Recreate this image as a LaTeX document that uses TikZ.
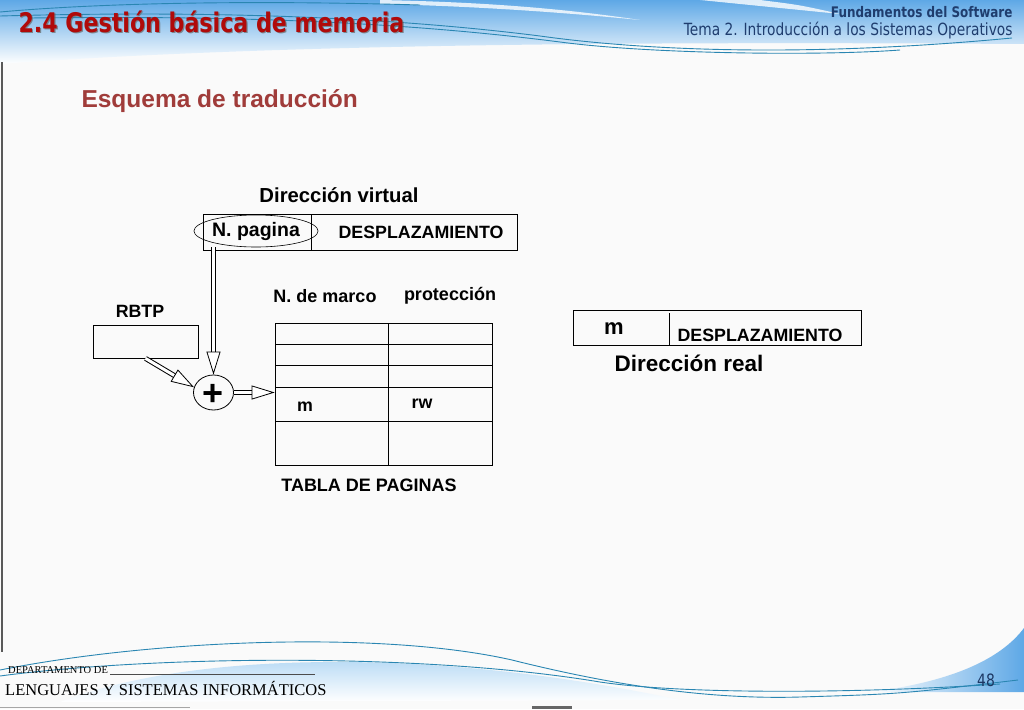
\documentclass[tikz,border=0pt]{standalone}
\usepackage{fontspec}
\setmainfont{Liberation Sans}
\newfontfamily\headfont[FakeStretch=0.82]{DejaVu Sans}
\newfontfamily\deptfont{Liberation Serif}
\usetikzlibrary{shapes.geometric,arrows.meta,calc}

\definecolor{titlered}{HTML}{B00A0A}
\definecolor{esqred}{HTML}{A03C3A}
\definecolor{navy}{HTML}{1F3D6E}
\definecolor{skyblue}{HTML}{5EA8E6}
\definecolor{paleblue}{HTML}{A6D1F2}
\definecolor{wave}{HTML}{2A86B2}
\definecolor{fondo}{HTML}{FAFAFA}

\tikzset{
  lbl/.style={font=\bfseries\fontsize{17.8}{20}\selectfont},
  caja/.style={draw, line width=0.8pt, inner sep=0pt},
  cuerpo/.style={double, double distance=3pt, line width=1pt, shorten >=21pt},
  punta/.style={line width=0.8pt, -{Triangle[length=23pt,width=14pt,fill=white]}},
  ola/.style={wave, line width=0.9pt},
}
% flecha hueca entre dos puntos con nombre
\newcommand{\flechahueca}[2]{%
  \draw[cuerpo] (#1) -- (#2);
  \draw[punta] ($(#2)!23pt!(#1)$) -- (#2);
}

\begin{document}
\begin{tikzpicture}[x=1pt,y=-1pt]
  \fill[fondo] (0,0) rectangle (1024,709);
  \useasboundingbox (0,0) rectangle (1024,709);

  % cabecera
  \shade[top color=skyblue, bottom color=white]
    (0,0) -- (1024,0) -- (1024,44) .. controls (700,42) and (300,42) .. (0,64) -- cycle;
  \fill[white, opacity=0.8] (380,0) .. controls (480,2) and (560,8) .. (640,20)
    .. controls (560,12) and (470,6) .. (380,4) -- cycle;
  \fill[white, opacity=0.8] (700,0) -- (760,0) .. controls (800,5) .. (840,14)
    .. controls (790,9) .. (700,0) -- cycle;
  \draw[ola] (0,12) .. controls (100,3) and (250,0) .. (420,5);
  \draw[ola] (0,16) .. controls (150,12) and (350,12) .. (540,36)
    .. controls (640,50) and (800,58) .. (1012,38);
  \draw[ola] (30,18) .. controls (200,16) and (380,19) .. (560,42)
    .. controls (650,54) and (820,56) .. (900,50);

  \node[anchor=west, text=black!60, opacity=0.7, font=\headfont\bfseries\fontsize{27}{30}\selectfont]
    at (16.2,23.2) {2.4 Gestión básica de memoria};
  \node[anchor=west, text=titlered, font=\headfont\bfseries\fontsize{27}{30}\selectfont]
    (titulo) at (15,22) {2.4 Gestión básica de memoria};
  \node[anchor=east, text=navy, font=\headfont\bfseries\fontsize{14.6}{18}\selectfont]
    (asig) at (1016,12) {Fundamentos del Software};
  \node[anchor=east, text=navy, font=\headfont\fontsize{16.8}{18}\selectfont]
    (tema) at (1016,31) {Tema 2. Introducción a los Sistemas Operativos};

  \draw[black!65, line width=1.5pt] (2,62) -- (2,652);

  % pie
  \shade[top color=paleblue, bottom color=white]
    (60,702) .. controls (200,648) and (450,650) .. (680,700) -- cycle;
  \shade[left color=white, right color=skyblue]
    (1024,628) .. controls (1000,660) and (950,682) .. (870,692) -- (1024,692) -- cycle;
  \draw[ola] (0,670) .. controls (150,640) and (380,630) .. (512,660)
    .. controls (600,682) and (700,700) .. (800,697) .. controls (900,694) .. (1018,680);
  \draw[ola] (0,676) .. controls (150,656) and (420,652) .. (600,682)
    .. controls (680,694) and (850,694) .. (1000,684);
  \draw[black!35] (0,707.5) -- (190,707.5);
  \fill[black!60] (532,706) rectangle (572,709);

  \node[anchor=west, inner sep=0pt, font=\deptfont\fontsize{10.5}{12}\selectfont]
    (depto) at (8,670) {DEPARTAMENTO DE};
  \draw[black!70, line width=0.5pt] (110,674) -- (315,674);
  \node[anchor=west, inner sep=0pt, font=\deptfont\fontsize{16.5}{19}\selectfont]
    (lsi) at (5,688) {LENGUAJES Y SISTEMAS INFORMÁTICOS};
  \node[text=navy!90!black, font=\headfont\fontsize{17}{20}\selectfont] (pag) at (986,680) {48};

  % esquema
  \node[anchor=west, text=esqred, font=\bfseries\fontsize{24.5}{28}\selectfont]
    (esquema) at (78,101) {Esquema de traducción};

  \node[font=\bfseries\fontsize{20.3}{24}\selectfont] (dvirt) at (339,195) {Dirección virtual};
  \node[caja, minimum width=314pt, minimum height=36pt] (vdir) at (360,232) {};
  \draw[line width=0.8pt] (311,214) -- (311,250);
  \node[ellipse, draw, line width=0.6pt, inner sep=0pt, minimum height=32pt,
    font=\bfseries\fontsize{19.5}{22}\selectfont] (npag) at (256,231) {N. pagina};
  \node[lbl] (desp) at (421,232) {DESPLAZAMIENTO};

  \node[lbl, font=\bfseries\fontsize{18}{20}\selectfont] (marco) at (325,296) {N. de marco};
  \node[lbl, font=\bfseries\fontsize{18}{20}\selectfont] (prot) at (450,296) {protección};

  \node[lbl] (rbtp) at (140,311) {RBTP};
  \node[caja, minimum width=105pt, minimum height=33pt] (reg) at (145.5,341.5) {};

  \node[caja, minimum width=217pt, minimum height=142pt] (tabla) at (383.5,394) {};
  \foreach \y in {344,365,387,421}
    \draw[line width=0.8pt] (275,\y) -- (492,\y);
  \draw[line width=0.8pt] (388,323) -- (388,465);
  \node[lbl] (marcom) at (305,407) {m};
  \node[lbl] (rw) at (422,404) {rw};
  \node[font=\bfseries\fontsize{18}{20}\selectfont] (tpag) at (369,485) {TABLA DE PAGINAS};

  \node[ellipse, draw, line width=0.8pt, minimum width=40pt, minimum height=35pt, inner sep=0pt]
    (suma) at (213.5,392.5) {};
  \node[font=\bfseries\fontsize{36}{36}\selectfont, inner sep=0pt] (mas) at (213.5,394.5) {+};

  \coordinate (pnp) at (npag.south -| suma.north);
  \coordinate (ptb) at (suma.east -| tabla.west);
  \flechahueca{pnp}{suma.north}
  \flechahueca{reg.south}{suma.165}
  \flechahueca{suma.east}{ptb}

  % direccion real
  \node[caja, minimum width=288pt, minimum height=35pt] (rdir) at (717,327.5) {};
  \draw[line width=0.8pt] (669,313) -- (669,345);
  \node[font=\bfseries\fontsize{22}{26}\selectfont] (realm) at (614,329) {m};
  \node[lbl] (rdesp) at (760,335) {DESPLAZAMIENTO};
  \node[font=\bfseries\fontsize{22.5}{26}\selectfont] (dreal) at (689,363) {Dirección real};
\end{tikzpicture}
\end{document}
